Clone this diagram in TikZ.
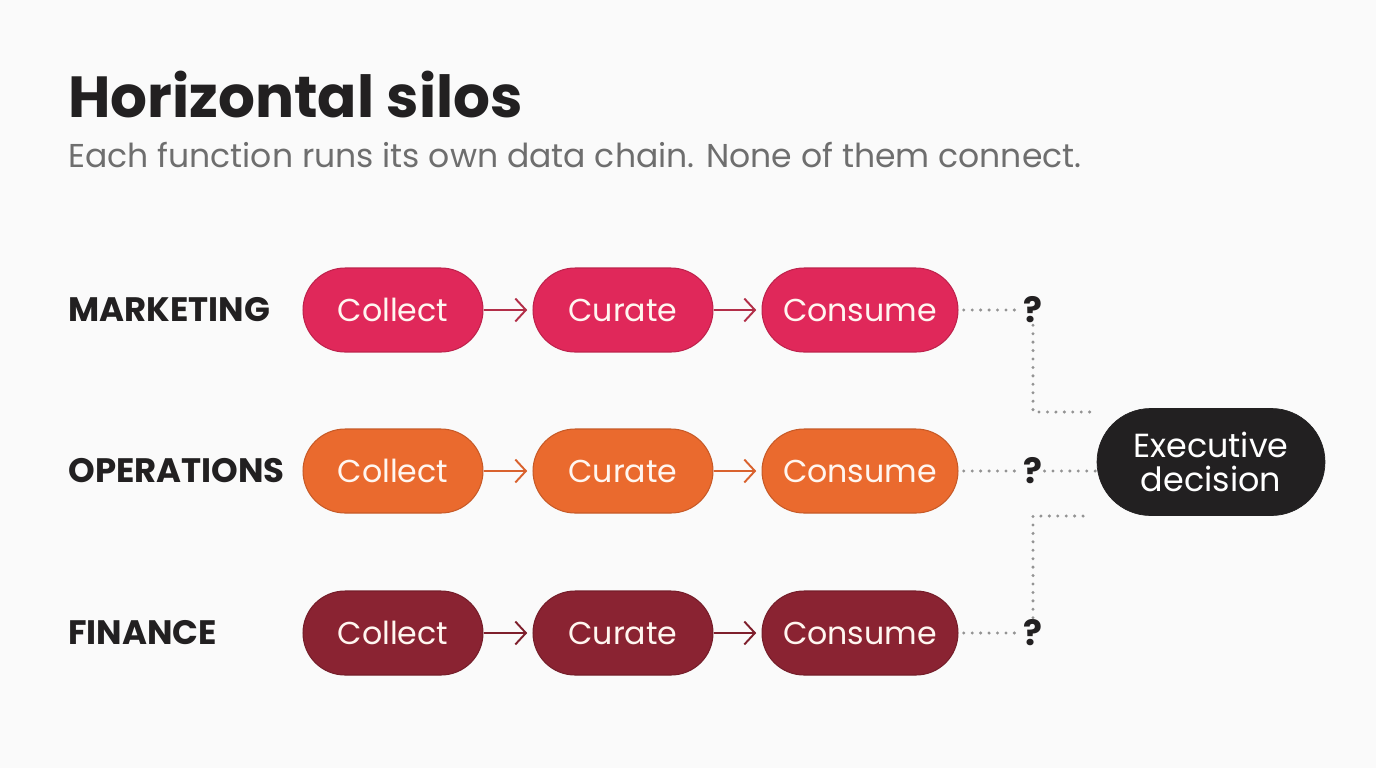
\documentclass[tikz,border=0pt]{standalone}
\usepackage{fontspec}
\setmainfont{Poppins}
\usetikzlibrary{arrows.meta,positioning}
\definecolor{ink}{HTML}{222021}
\definecolor{subgray}{HTML}{6E6E6E}
\definecolor{paper}{HTML}{FAFAFA}
\definecolor{mktfill}{HTML}{E0285A}
\definecolor{mktarrow}{HTML}{B22E48}
\definecolor{opsfill}{HTML}{EA6A2E}
\definecolor{opsarrow}{HTML}{D9622E}
\definecolor{finfill}{HTML}{8A2332}
\definecolor{finarrow}{HTML}{7E1F2C}
\definecolor{pilltext}{HTML}{FFF6F0}

\begin{document}
\begin{tikzpicture}[
  x=0.02cm, y=-0.02cm,
  pill/.style={rectangle, rounded corners=0.84cm, minimum width=3.6cm,
    minimum height=1.68cm, line width=0.6pt, text=pilltext,
    font=\fontsize{18}{20}\selectfont},
  wide/.style={minimum width=3.92cm},
  rowlabel/.style={anchor=west, inner sep=0pt, text=ink,
    font=\bfseries\fontsize{19.3}{22}\selectfont},
  qmark/.style={inner sep=1pt, text=ink, font=\bfseries\fontsize{20}{22}\selectfont},
  arr/.style={-{Straight Barb[length=6pt,width=13pt]}, line width=1.1pt,
    shorten >=3pt},
  dots/.style={gray!85, line width=1.9pt, line cap=round,
    dash pattern=on 0pt off 4.8pt}
]
  \fill[paper] (0,0) rectangle (1376,768);
  \useasboundingbox (0,0) rectangle (1376,768);

  % title
  \node[anchor=base west, inner sep=0pt, text=ink,
    font=\bfseries\fontsize{33}{38}\selectfont] (title) at (68,117)
    {Horizontal silos};
  \node[anchor=base west, inner sep=0pt, text=subgray,
    font=\fontsize{18.8}{22}\selectfont] (subtitle) at (68,167)
    {Each function runs its own data chain. None of them connect.};

  % MARKETING row
  \node[rowlabel] (lmkt) at (68,310) {MARKETING};
  \node[pill, fill=mktfill, draw=mktfill!85!black] (c1) at (393,310) {Collect};
  \node[pill, fill=mktfill, draw=mktfill!85!black] (r1) at (623,310) {Curate};
  \node[pill, wide, fill=mktfill, draw=mktfill!85!black] (s1) at (860,310) {Consume};
  \draw[arr, mktarrow] (c1) -- (r1);
  \draw[arr, mktarrow] (r1) -- (s1);

  % OPERATIONS row
  \node[rowlabel] (lops) at (68,471) {OPERATIONS};
  \node[pill, fill=opsfill, draw=opsfill!85!black] (c2) at (393,471) {Collect};
  \node[pill, fill=opsfill, draw=opsfill!85!black] (r2) at (623,471) {Curate};
  \node[pill, wide, fill=opsfill, draw=opsfill!85!black] (s2) at (860,471) {Consume};
  \draw[arr, opsarrow] (c2) -- (r2);
  \draw[arr, opsarrow] (r2) -- (s2);

  % FINANCE row
  \node[rowlabel] (lfin) at (68,633) {FINANCE};
  \node[pill, fill=finfill, draw=finfill!85!black] (c3) at (393,633) {Collect};
  \node[pill, fill=finfill, draw=finfill!85!black] (r3) at (623,633) {Curate};
  \node[pill, wide, fill=finfill, draw=finfill!85!black] (s3) at (860,633) {Consume};
  \draw[arr, finarrow] (c3) -- (r3);
  \draw[arr, finarrow] (r3) -- (s3);

  % executive decision
  \node[rectangle, rounded corners=1.07cm, minimum width=4.56cm,
    minimum height=2.14cm, fill=ink, draw=ink, text=white, align=center,
    font=\fontsize{19}{19}\selectfont] (exec) at (1211,462)
    {Executive\\decision};

  % question marks and dotted links
  \node[qmark] (q1) at (1033,310) {?};
  \node[qmark] (q2) at (1033,471) {?};
  \node[qmark] (q3) at (1033,633) {?};
  \coordinate (e1) at (1090,412);
  \coordinate (e3) at (1090,516);
  \draw[dots] ([xshift=3pt]s1.east) -- (q1.west);
  \draw[dots] ([xshift=3pt]s2.east) -- (q2.west);
  \draw[dots] ([xshift=3pt]s3.east) -- (q3.west);
  \draw[dots] (q1.south) |- (e1);
  \draw[dots] (q3.north) |- (e3);
  \draw[dots] (q2.east) -- (q2.east -| exec.west);
\end{tikzpicture}
\end{document}
